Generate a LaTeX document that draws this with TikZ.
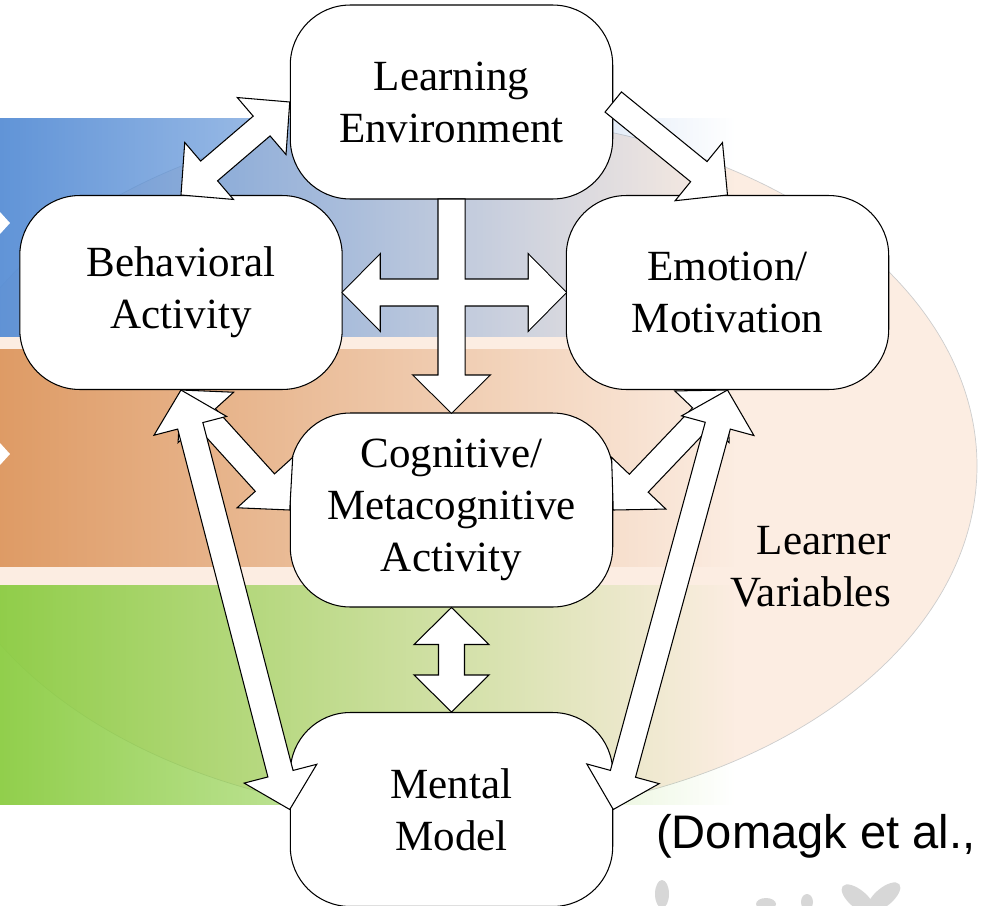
\documentclass[tikz,border=0pt]{standalone}
\usepackage{fontspec}
\setmainfont{Liberation Serif}
\newfontfamily\citefont{Liberation Sans}
\usetikzlibrary{calc,fadings}

\definecolor{bandblue}{RGB}{88,142,213}
\definecolor{bandorange}{RGB}{221,151,95}
\definecolor{bandgreen}{RGB}{139,204,66}
\definecolor{learnerpeach}{RGB}{252,237,226}
\definecolor{learnerline}{RGB}{205,205,205}
\definecolor{leafgray}{RGB}{215,215,215}

\tikzfading[name=bandfade, left color=transparent!5, middle color=transparent!45, right color=transparent!100]

\newcommand{\shaftw}{0.26cm}
\newcommand{\headw}{0.75cm}
\newcommand{\headl}{0.74cm}

\newcommand{\blockarr}[3][]{%
  \coordinate (nk) at ($(#3)!\headl!(#2)$);
  \path[#1] ($(#2)!\shaftw!90:(#3)$) -- ($(nk)!\shaftw!90:(#3)$) -- ($(nk)!\headw!90:(#3)$) -- (#3)
    -- ($(nk)!\headw!-90:(#3)$) -- ($(nk)!\shaftw!-90:(#3)$) -- ($(#2)!\shaftw!-90:(#3)$) -- cycle;}

\newcommand{\blockdarr}[3][]{%
  \coordinate (nka) at ($(#2)!\headl!(#3)$);
  \coordinate (nkb) at ($(#3)!\headl!(#2)$);
  \path[#1] (#2) -- ($(nka)!\headw!90:(#3)$) -- ($(nka)!\shaftw!90:(#3)$) -- ($(nkb)!\shaftw!90:(#3)$)
    -- ($(nkb)!\headw!90:(#3)$) -- (#3) -- ($(nkb)!\headw!-90:(#3)$) -- ($(nkb)!\shaftw!-90:(#3)$)
    -- ($(nka)!\shaftw!-90:(#3)$) -- ($(nka)!\headw!-90:(#3)$) -- cycle;}

\begin{document}
\begin{tikzpicture}[x=0.02cm, y=-0.02cm,
    stage/.style={draw, fill=white, line width=0.6pt, rounded corners=1.2cm, minimum width=6.45cm,
      minimum height=3.88cm, inner sep=0pt, align=center, font=\fontsize{24.5}{29.6}\selectfont},
    link/.style={draw, fill=white, line width=0.6pt},
    band/.style={path fading=bandfade}]
      \useasboundingbox (0,0) rectangle (981,906);
      \clip (0,0) rectangle (981,906);
      \draw[learnerline, fill=learnerpeach, line width=0.4pt] (452,466) ellipse [x radius=525, y radius=350];
      \fill[bandblue, band] (0,118) rectangle (735,337);
      \fill[bandorange, band] (0,349) rectangle (735,567);
      \fill[bandgreen, band] (0,585) rectangle (735,805);
      \fill[white] (0,212) -- (10,223) -- (0,234) -- cycle;
      \fill[white] (0,443) -- (10,454) -- (0,465) -- cycle;

      \node[stage] (learn) at (451.5,102) {Learning\\Environment};
      \node[stage] (behav) at (181,292.5) {Behavioral\\Activity};
      \node[stage] (emo) at (727.5,292.5) {Emotion/\\Motivation};
      \node[stage] (cog) at (451.5,510) {Cognitive/\\Metacognitive\\Activity};
      \node[stage] (mental) at (451.5,809.5) {Mental\\Model};

      \blockdarr[draw, line width=1.2pt]{behav.east}{emo.west}
      \blockarr[draw, line width=1.2pt]{learn.south}{cog.north}
      \blockdarr[fill=white]{behav.east}{emo.west}
      \blockarr[fill=white]{learn.south}{cog.north}
      \blockdarr[link]{behav.north}{learn.west}
      \blockarr[link]{learn.east}{emo.north}
      \blockdarr[link]{behav.south}{cog.west}
      \blockdarr[link]{emo.south}{cog.east}
      \blockdarr[link]{cog.south}{mental.north}
      \blockdarr[link]{behav.south}{mental.west}
      \blockdarr[link]{emo.south}{mental.east}

      \node[anchor=east, align=right, font=\fontsize{24.5}{29.6}\selectfont] (learner) at (897,567) {Learner\\Variables};
      \node[anchor=west, font=\citefont\fontsize{26.8}{30}\selectfont] (cite) at (650,836) {(Domagk et al.,};

      \fill[leafgray] (662,894) ellipse [x radius=7, y radius=14];
      \fill[leafgray] (766,904) ellipse [x radius=10, y radius=6];
      \fill[leafgray] (807,902) ellipse [x radius=6, y radius=8];
      \fill[leafgray, rotate around={-40:(858,899)}] (858,899) ellipse [x radius=20, y radius=9];
      \fill[leafgray, rotate around={40:(884,897)}] (884,897) ellipse [x radius=20, y radius=9];
    \end{tikzpicture}
\end{document}
